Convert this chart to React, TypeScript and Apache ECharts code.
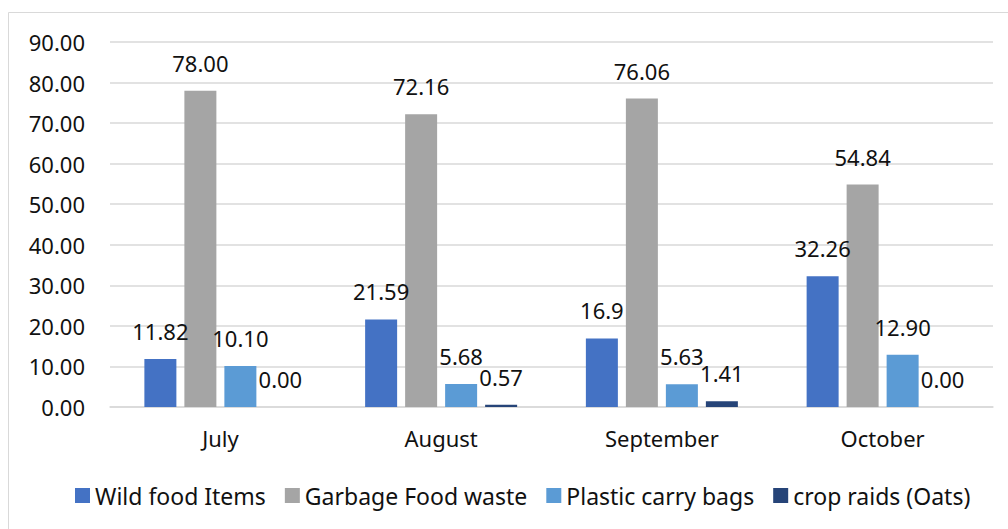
import React, { useEffect, useRef } from "react";
import * as echarts from "echarts";

const categories = ["July", "August", "September", "October"];
const seriesNames = ["Wild food Items", "Garbage Food waste", "Plastic carry bags", "crop raids (Oats)"];
const wildFood = [11.82, 21.59, 16.9, 32.26];
const wildFoodLabels = ["11.82", "21.59", "16.9", "32.26"];
const garbage = [78.0, 72.16, 76.06, 54.84];
const garbageLabels = ["78.00", "72.16", "76.06", "54.84"];
const plastic = [10.1, 5.68, 5.63, 12.9];
const plasticLabels = ["10.10", "5.68", "5.63", "12.90"];
const crop = [0, 0.57, 1.41, 0];
const cropLabels = ["0.00", "0.57", "1.41", "0.00"];
const colors = ["#4472C4", "#A5A5A5", "#5B9BD5", "#264478"];
const yTicks = { min: 0, max: 90, interval: 10 };

const FONT = "'Noto Sans', 'Open Sans', sans-serif";
const TEXT = "#111111";

export default function App() {
  const ref = useRef<HTMLDivElement>(null);
  useEffect(() => {
    if (!ref.current) return;
    const chart = echarts.init(ref.current, undefined, { renderer: "svg" });
    const values = [wildFood, garbage, plastic, crop];
    const labels = [wildFoodLabels, garbageLabels, plasticLabels, cropLabels];
    chart.setOption({
      animation: false,
      color: colors,
      textStyle: { fontFamily: FONT },
      graphic: [
        {
          type: "rect",
          shape: { x: 8.5, y: 12.5, width: 1010, height: 540 },
          style: { fill: "none", stroke: "#d9d9d9", lineWidth: 1 },
          silent: true,
        },
      ],
      grid: { left: 110, right: 15, top: 42, bottom: 122, containLabel: false },
      legend: {
        bottom: 17,
        left: 70,
        itemWidth: 15,
        itemHeight: 15,
        itemGap: 19,
        icon: "rect",
        textStyle: { fontSize: 23, color: TEXT, fontFamily: FONT },
        data: seriesNames,
      },
      xAxis: {
        type: "category",
        data: categories,
        axisTick: { show: false },
        axisLine: { lineStyle: { color: "#d9d9d9", width: 1.5 } },
        axisLabel: { fontSize: 22, color: TEXT, fontFamily: FONT, margin: 20 },
      },
      yAxis: {
        type: "value",
        min: yTicks.min,
        max: yTicks.max,
        interval: yTicks.interval,
        axisLine: { show: false },
        axisTick: { show: false },
        splitLine: { lineStyle: { color: "#d9d9d9", width: 1.5 } },
        axisLabel: {
          fontSize: 22,
          color: TEXT,
          fontFamily: FONT,
          margin: 25,
          formatter: (v: number) => v.toFixed(2),
        },
      },
      series: seriesNames.map((name, i) => ({
        name,
        type: "bar",
        barWidth: 32,
        barGap: "25%",
        data: values[i],
        label: {
          show: true,
          position: "top",
          distance: 17,
          fontSize: 22,
          color: TEXT,
          fontFamily: FONT,
          formatter: (p: any) => labels[i][p.dataIndex],
        },
      })),
    });
    return () => chart.dispose();
  }, []);
  return (
    <div
      ref={ref}
      style={{ position: "absolute", left: 0, top: 0, width: 1008, height: 529, background: "#fff" }}
    />
  );
}
